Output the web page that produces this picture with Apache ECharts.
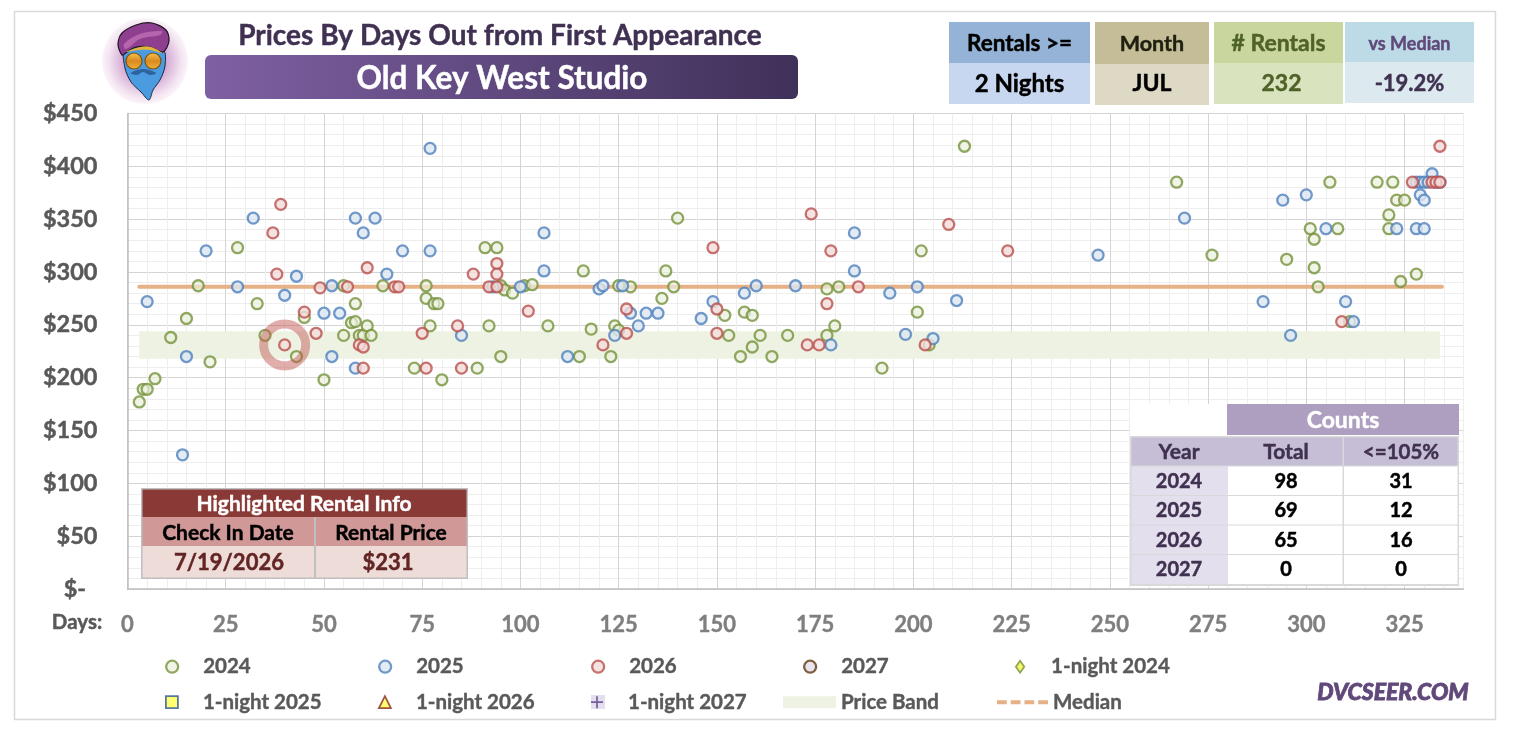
<!DOCTYPE html>
<html>
<head>
<meta charset="utf-8">
<style>html,body{margin:0;padding:0;background:#fff}#c{width:1513px;height:731px}</style>
<script src="https://cdn.jsdelivr.net/npm/echarts@6/dist/echarts.min.js"></script>
</head>
<body>
<div id="c"></div>
<script>
const points2024 = [[3,177],[4,189],[5,189],[7,199],[11,238],[15,256],[18,287],[21,215],[28,323],[33,270],[35,240],[43,220],[45,257],[50,198],[55,287],[55,240],[57,252],[58,253],[58,270],[59,240],[60,240],[61,249],[62,240],[65,287],[73,209],[76,287],[76,275],[77,249],[78,270],[79,270],[80,198],[89,209],[91,323],[92,249],[94,323],[95,220],[95,287],[96,283],[98,280],[101,287],[103,288],[107,249],[115,220],[116,301],[118,246],[123,220],[124,249],[125,287],[125,245],[128,286],[136,275],[137,301],[139,286],[140,351],[152,259],[153,240],[156,220],[157,262],[159,259],[159,229],[161,240],[164,220],[168,240],[178,284],[178,240],[180,249],[181,286],[192,209],[201,262],[202,320],[204,231],[213,419],[267,385],[276,316],[295,312],[301,341],[302,331],[302,304],[303,286],[306,385],[308,341],[311,253],[318,385],[321,354],[321,341],[322,385],[323,368],[324,291],[325,368],[328,298]];
const points2025 = [[5,272],[14,127],[15,220],[20,320],[28,286],[32,351],[40,278],[43,296],[50,261],[52,287],[52,220],[54,261],[58,351],[58,209],[60,337],[63,351],[66,298],[70,320],[77,417],[77,320],[85,240],[93,286],[100,286],[106,337],[106,301],[112,220],[120,284],[121,287],[124,240],[126,287],[128,261],[130,249],[132,261],[135,261],[146,256],[149,272],[157,280],[160,287],[170,287],[179,231],[185,337],[185,301],[194,280],[198,241],[201,286],[205,237],[211,273],[247,316],[269,351],[289,272],[294,368],[296,240],[300,373],[305,341],[310,272],[312,253],[323,341],[328,341],[330,341],[329,373],[330,368],[332,393],[328,385],[329,385],[330,385],[331,385],[333,385],[334,385]];
const points2026 = [[37,337],[38,298],[39,364],[40,231],[45,262],[48,242],[49,285],[56,286],[59,231],[60,229],[60,209],[61,304],[68,286],[69,286],[75,242],[76,209],[84,249],[85,209],[88,298],[92,286],[94,308],[94,298],[94,286],[102,263],[121,231],[127,265],[127,242],[149,323],[150,265],[150,242],[173,231],[174,355],[176,231],[178,270],[179,320],[186,286],[203,231],[209,345],[224,320],[309,253],[327,385],[332,385],[333,385],[334,385],[334,419]];
const highlighted = [[40,231]];
const medianLine = [[3,286],[334.5,286]];
const priceBand = [[3,218,334,244]];

const countYears = ['2024','2025','2026','2027'];
const countTotals = ['98','69','65','0'];
const countNear = ['31','12','16','0'];

const statHeads = ['Rentals >=','Month','# Rentals','vs Median'];
const statValues = ['2 Nights','JUL','232','-19.2%'];

const FONT = 'Lato';
const G = [];
function rect(x,y,w,h,fill,extra){G.push(Object.assign({type:'rect',z:100,shape:{x,y,width:w,height:h},style:{fill}},extra||{}));}
function label(t,x,y,size,color,weight,align){G.push({type:'text',z:101,x,y,style:{text:t,fill:color,stroke:color,lineWidth:.45,font:(weight||'bold')+' '+size+'px '+FONT,align:align||'center',verticalAlign:'middle'}});}

// outer frame
rect(14.5,11.5,1481,708,'none',{z:1,style:{fill:'none',stroke:'#d9d9d9',lineWidth:1.5}});

// logo
G.push({type:'circle',z:100,shape:{cx:145,cy:61,r:43},style:{fill:{type:'radial',x:.5,y:.5,r:.5,colorStops:[{offset:0,color:'#9b4f9f'},{offset:.55,color:'#d9b3d8'},{offset:.85,color:'#f3e4f1'},{offset:1,color:'#fbf4fa'}]}}});
G.push({type:'polygon',z:101,shape:{smooth:.3,points:[[125,50],[163,50],[165,66],[160,80],[153,90],[149,100],[141,92],[131,82],[125,68]]},style:{fill:'#4b9be0',stroke:'#1b2a45',lineWidth:1}});
G.push({type:'polygon',z:102,shape:{smooth:.3,points:[[122,55],[118,44],[122,33],[136,25],[152,23],[166,30],[169,41],[163,52],[150,47],[136,47],[127,52]]},style:{fill:'#8f3f8f',stroke:'#1d1420',lineWidth:1.2}});
G.push({type:'polygon',z:103,shape:{smooth:.4,points:[[124,44],[140,34],[162,31],[160,35],[140,39],[126,49]]},style:{fill:'#b565ad'}});
G.push({type:'polygon',z:103,shape:{smooth:.4,points:[[126,52],[140,47],[151,47],[162,53],[150,50],[138,50]]},style:{fill:'#e3b53a'}});
const lens={type:'linear',x:0,y:0,x2:0,y2:1,colorStops:[{offset:0,color:'#f6c653'},{offset:.5,color:'#d98a1f'},{offset:1,color:'#f0b238'}]};
G.push({type:'circle',z:103,shape:{cx:134,cy:61,r:8},style:{fill:lens,stroke:'#7a5010',lineWidth:1.2}});
G.push({type:'circle',z:103,shape:{cx:153,cy:61,r:8},style:{fill:lens,stroke:'#7a5010',lineWidth:1.2}});
G.push({type:'polygon',z:103,shape:{smooth:.4,points:[[131,73],[143,69],[156,73],[150,75],[143,72],[137,75]]},style:{fill:'#2f62a0'}});

// title + banner
label('Prices By Days Out from First Appearance',500,36,28,'#403152');
rect(205,55,593,44,{type:'linear',x:0,y:0,x2:1,y2:0,colorStops:[{offset:0,color:'#7f60a3'},{offset:1,color:'#3f3159'}]},{shape:{x:205,y:55,width:593,height:44,r:6}});
label('Old Key West Studio',502,79,31.5,'#ffffff');

// stat boxes
const boxX=[949,1095,1214,1345], boxW=[141,114,129,129], boxMid=[63,64,63,62], boxEnd=[104,105,104,103];
const boxHead=['#95b3d7','#c4bd97','#c9d69d','#bcdbe6'], boxBody=['#c6d7ef','#ddd9c4','#d9e4bf','#dce9ef'];
const headColor=['#000000','#1f1f10','#4f6228','#60497a'], valColor=['#000000','#000000','#4f6228','#403151'];
const headSize=[22.5,21.5,23,18], valSize=[24,23,23,22];
statHeads.forEach((t,i)=>{
  rect(boxX[i],22,boxW[i],boxMid[i]-22,boxHead[i]);
  rect(boxX[i],boxMid[i],boxW[i],boxEnd[i]-boxMid[i],boxBody[i]);
  label(t,boxX[i]+boxW[i]/2,44,headSize[i],headColor[i]);
  label(statValues[i],boxX[i]+boxW[i]/2+(i==2?3:0),84,valSize[i],valColor[i]);
});

// highlighted rental table
rect(141,488,327,91,'#bfbfbf');
rect(142.5,489.5,324,27.5,'#8a3a36');
rect(142.5,517,171.5,29,'#d09896');
rect(316,517,150.5,29,'#d09896');
rect(142.5,546,171.5,31.5,'#eedcd9');
rect(316,546,150.5,31.5,'#eedcd9');
label('Highlighted Rental Info',304,504,21,'#ffffff');
label('Check In Date',228,533,21,'#000000');
label('Rental Price',391,533,21,'#000000');
label('7/19/2026',229,563,22,'#632523');
label('$231',388,563,22,'#632523');

// counts table
rect(1130,404,329,181,'#ffffff');
rect(1227,404,232,31,'#ae9fc1');
label('Counts',1343,421,23,'#ffffff');
rect(1130,436,329,150,'#d9d9d9');
rect(1131.5,437.5,211,28,'#c6bdd6');
rect(1344,437.5,113.5,28,'#c6bdd6');
label('Year',1179,452,21,'#403151');
label('Total',1286,452,21,'#403151');
label('<=105%',1401,452,20.5,'#403151');
const rowY=[466.5,496,525.5,555];
countYears.forEach((y,i)=>{
  const h=i==3?29:28.5;
  rect(1131.5,rowY[i],96.5,h,'#e4dfec');
  rect(1228,rowY[i],114.5,h,'#ffffff');
  rect(1344,rowY[i],113.5,h,'#ffffff');
  label(y,1179,rowY[i]+15,20,'#403151');
  label(countTotals[i],1286,rowY[i]+15,20,'#000000');
  label(countNear[i],1401,rowY[i]+15,20,'#000000');
});

// axis caption + brand + swatch behind the 1-night 2027 legend cross
label('Days:',77,622,20.5,'#595959');
G.push({type:'text',z:101,x:1393,y:693,style:{text:'DVCSEER.COM',fill:'#60497a',stroke:'#60497a',lineWidth:.8,font:'italic 900 23px '+FONT,align:'center',verticalAlign:'middle'}});
rect(591,695,14,14,'#e4dfec',{z:1});

const green={color:'rgba(235,241,222,.85)',borderColor:'#76923c',borderWidth:2.3};
const blue={color:'#dce6f1',borderColor:'#4f81bd',borderWidth:2.3};
const red={color:'#f2dcdb',borderColor:'#b9504c',borderWidth:2.3};
const brown={color:'#e4dfec',borderColor:'#5f3a12',borderWidth:2.3};
const night24={color:'#f5f542',borderColor:'#76923c',borderWidth:1.8};
const night25={color:'#ffff4d',borderColor:'#2f5597',borderWidth:1.8};
const night26={color:'#ffff4d',borderColor:'#8a2b1f',borderWidth:1.8};
const night27={color:'#5a3f8a',borderWidth:0};
const PATH={diamond:'path://M0 -10L7 0L0 10L-7 0Z',square:'path://M-9 -9L9 -9L9 9L-9 9Z',tri:'path://M0 -10L10 10L-10 10Z',
  plus:'path://M-1 -7H1V-1H7V1H1V7H-1V1H-7V-1H-1Z',
  dash:'path://M0 0H10V4H0ZM14 0H24V4H14ZM28 0H38V4H28ZM42 0H52V4H42Z'};

function sc(name,data,style,symbol,size){return {type:'scatter',name,data,symbol:symbol||'circle',symbolSize:size||11,itemStyle:style,emphasis:{disabled:true},xAxisIndex:0,yAxisIndex:0};}

const legendText={fontFamily:FONT,fontWeight:'bold',fontSize:20.5,color:'#595959',textBorderColor:'#595959',textBorderWidth:.4};
function legendAt(name,left,top,itemStyle,icon,w,h){
  return {data:[{name,icon,itemStyle}],left,top,itemWidth:w||52,itemHeight:h||12,selectedMode:false,padding:0,textStyle:legendText};
}
const row1=656, row2=691.5;
const legends=[
 legendAt('2024',165,row1,green,'circle'),
 legendAt('2025',378,row1,blue,'circle'),
 legendAt('2026',591,row1,red,'circle'),
 legendAt('2027',803,row1,brown,'circle'),
 legendAt('1-night 2024',1015,row1,night24,PATH.diamond),
 legendAt('1-night 2025',165,row2,night25,PATH.square),
 legendAt('1-night 2026',378,row2,night26,PATH.tri),
 legendAt('1-night 2027',591,row2,night27,PATH.plus),
 legendAt('Price Band',783,row2,{color:'#eef2e2'},'rect',53,12),
 legendAt('Median',997,row2,{color:'#e6b187',borderWidth:0},PATH.dash,51,4)
];

const chart=echarts.init(document.getElementById('c'),null,{renderer:'canvas'});
chart.setOption({
  animation:false,
  backgroundColor:'#ffffff',
  grid:{left:127.5,top:113.5,width:1336,height:475.5,containLabel:false},
  legend:legends,
  xAxis:[
    {type:'value',min:0,max:340,interval:5,axisLine:{show:false},axisTick:{show:false},axisLabel:{show:false},splitLine:{show:true,lineStyle:{color:'#eeeeee',width:1}}},
    {type:'value',min:0,max:340,interval:25,position:'bottom',axisLine:{show:true,lineStyle:{color:'#bfbfbf',width:1.5}},axisTick:{show:false},
      axisLabel:{margin:25,fontFamily:FONT,fontWeight:'bold',fontSize:22,color:'#7f7f7f',textBorderColor:'#7f7f7f',textBorderWidth:.4,showMaxLabel:false,hideOverlap:false,formatter:v=>v>325?'':String(v)},
      splitLine:{show:true,showMaxLine:false,lineStyle:{color:'#d4d4d4',width:1}}}
  ],
  yAxis:{type:'value',min:0,max:450,interval:50,axisLine:{show:true,lineStyle:{color:'#bfbfbf',width:1.5}},axisTick:{show:false},
    minorTick:{show:false,splitNumber:5},minorSplitLine:{show:true,lineStyle:{color:'#eeeeee',width:1}},
    splitLine:{show:true,lineStyle:{color:'#d4d4d4',width:1}},
    axisLabel:{margin:30,fontFamily:FONT,fontWeight:'bold',fontSize:23.5,color:'#595959',textBorderColor:'#595959',textBorderWidth:.45,formatter:v=>v===0?'$-\u00a0\u00a0':'$'+v}},
  graphic:{elements:G},
  series:[
    {type:'custom',name:'Price Band',data:priceBand,encode:{x:[0,2],y:[1,3]},itemStyle:{color:'#eef2e2'},silent:true,z:1,
      renderItem:(p,api)=>{const a=api.coord([api.value(0),api.value(3)]),b=api.coord([api.value(2),api.value(1)]);
        return {type:'rect',shape:{x:a[0],y:a[1],width:b[0]-a[0],height:b[1]-a[1]},style:{fill:'#eef2e2'}};}},
    {type:'line',name:'Median',data:medianLine,symbol:'none',silent:true,z:1.5,lineStyle:{color:'#e6b187',width:4,cap:'round'},itemStyle:{color:'#e6b187'}},
    sc('2024',points2024,green),
    sc('2025',points2025,blue),
    sc('2026',points2026,red),
    sc('2027',[],brown),
    sc('1-night 2024',[],night24,PATH.diamond),
    sc('1-night 2025',[],night25,PATH.square),
    sc('1-night 2026',[],night26,PATH.tri),
    sc('1-night 2027',[],night27,PATH.plus),
    {type:'scatter',name:'Highlight',data:highlighted,symbol:'circle',symbolSize:42,silent:true,z:5,itemStyle:{color:'rgba(0,0,0,0)',borderColor:'rgba(192,85,82,.6)',borderWidth:9}}
  ]
});
</script>
</body>
</html>
